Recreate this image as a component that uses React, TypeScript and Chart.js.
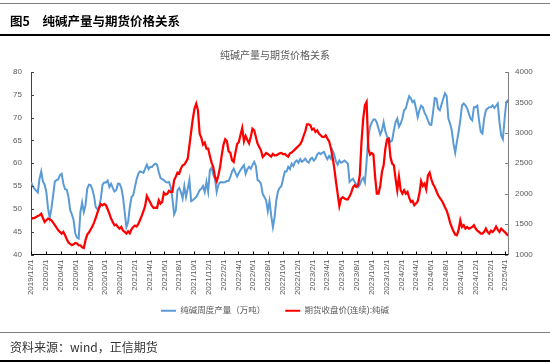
import React, { useEffect, useRef } from "react";
import { Chart, registerables } from "chart.js";

Chart.register(...registerables);

const figureTitle = "图5　纯碱产量与期货价格关系";
const chartTitle = "纯碱产量与期货价格关系";
const sourceNote = "资料来源：wind，正信期货";
const seriesNames = ["纯碱周度产量（万吨）", "期货收盘价(连续):纯碱"];

const startDate = "2019/12/1";
const weekStepDays = 7;

const xTickLabels = [
  "2019/12/1", "2020/2/1", "2020/4/1", "2020/6/1", "2020/8/1", "2020/10/1", "2020/12/1",
  "2021/2/1", "2021/4/1", "2021/6/1", "2021/8/1", "2021/10/1", "2021/12/1",
  "2022/2/1", "2022/4/1", "2022/6/1", "2022/8/1", "2022/10/1", "2022/12/1",
  "2023/2/1", "2023/4/1", "2023/6/1", "2023/8/1", "2023/10/1", "2023/12/1",
  "2024/2/1", "2024/4/1", "2024/6/1", "2024/8/1", "2024/10/1", "2024/12/1",
  "2025/2/1", "2025/4/1",
];

const leftTicks = { min: 40, max: 80, step: 5 };
const rightTicks = { min: 1000, max: 4000, step: 500 };

// weekly production (万吨)
const productionValues = [
  55.9, 55.0, 54.4, 54.0, 53.6, 56.6, 58.2, 56.0, 55.3, 53.7,
  50.1, 48.0, 50.1, 53.0, 56.0, 56.3, 56.5, 57.4, 57.7, 55.5,
  54.3, 54.2, 52.6, 49.7, 48.8, 47.5, 44.6, 43.7, 43.5, 49.3,
  51.4, 49.3, 50.8, 54.4, 55.3, 55.2, 54.3, 52.8, 50.4, 49.9,
  50.4, 52.3, 55.3, 55.8, 55.8, 56.2, 54.8, 55.5, 54.6, 53.8,
  54.1, 55.5, 55.5, 54.6, 52.6, 49.3, 46.0, 47.1, 50.4, 52.6,
  53.0, 54.8, 56.5, 57.7, 58.2, 58.1, 57.9, 58.8, 59.7, 58.7,
  59.2, 59.2, 59.6, 59.9, 59.7, 58.1, 56.8, 56.5, 56.3, 55.9,
  55.8, 55.9, 54.8, 52.3, 48.8, 49.7, 54.1, 54.6, 53.7, 52.3,
  55.0, 52.6, 54.4, 56.3, 51.7, 51.9, 52.3, 52.6, 53.3, 54.1,
  54.4, 55.0, 53.7, 55.9, 53.8, 58.5, 59.0, 57.5, 56.6, 53.7,
  55.3, 55.8, 55.9, 55.8, 55.9, 56.1, 56.1, 57.0, 58.2, 58.8,
  57.9, 57.1, 57.9, 58.5, 59.1, 59.6, 57.7, 58.7, 59.2, 58.8,
  59.6, 60.3, 59.4, 56.3, 56.1, 55.5, 53.3, 52.6, 51.9, 49.5,
  51.7, 48.5, 46.0, 48.2, 51.9, 53.9, 54.6, 55.0, 56.6, 58.2,
  58.2, 59.2, 58.7, 59.9, 59.4, 60.3, 60.6, 60.1, 60.9, 60.3,
  60.6, 61.0, 60.4, 60.1, 60.9, 61.2, 60.6, 61.0, 61.9, 62.3,
  62.0, 62.3, 62.5, 61.6, 60.9, 61.6, 61.0, 62.8, 61.9, 60.4,
  59.7, 60.6, 60.1, 60.3, 60.6, 60.3, 59.9, 55.9, 56.3, 56.6,
  55.9, 55.3, 54.8, 55.3, 56.3, 56.8, 55.8, 60.3, 65.8, 68.0,
  68.9, 69.6, 69.6, 68.9, 67.6, 66.3, 67.2, 69.0, 67.0, 65.8,
  65.4, 64.7, 65.0, 67.2, 69.0, 69.8, 68.0, 68.7, 69.8, 71.6,
  72.0, 73.4, 74.7, 74.2, 73.4, 73.7, 72.0, 70.1, 71.6, 72.6,
  72.3, 71.1, 70.4, 69.4, 68.5, 68.4, 71.2, 74.3, 74.2, 72.0,
  71.6, 72.9, 74.2, 75.3, 74.7, 69.8, 68.7, 67.2, 64.3, 62.3,
  64.7, 66.9, 69.4, 72.7, 73.1, 72.7, 72.0, 70.9, 69.8, 69.4,
  72.3, 72.3, 72.6, 69.4, 66.9, 66.5, 69.8, 71.6, 72.0, 72.3,
  72.3, 72.7, 72.1, 72.6, 73.1, 69.0, 66.1, 65.3, 69.8, 73.4, 73.9,
];

// futures close (continuous), sampled weekly
const priceValues = [
  1580, 1600, 1600, 1618, 1634, 1645, 1672, 1600, 1535, 1563,
  1590, 1580, 1563, 1524, 1481, 1442, 1398, 1371, 1344, 1371,
  1316, 1250, 1196, 1174, 1152, 1168, 1190, 1180, 1152, 1152,
  1120, 1108, 1234, 1327, 1360, 1410, 1459, 1524, 1600, 1688,
  1765, 1831, 1809, 1831, 1809, 1743, 1672, 1590, 1535, 1481,
  1492, 1453, 1426, 1453, 1393, 1371, 1344, 1382, 1349, 1415,
  1453, 1475, 1459, 1502, 1568, 1634, 1711, 1798, 1963, 1908,
  1853, 1798, 1765, 1771, 1765, 1891, 1837, 1864, 2017, 1985,
  1996, 2045, 2028, 2028, 2220, 2280, 2346, 2330, 2412, 2466,
  2477, 2521, 2576, 2795, 3014, 3233, 3398, 3480, 3370, 2987,
  2916, 2806, 2839, 2740, 2740, 2620, 2510, 2439, 2275, 2204,
  2302, 2439, 2642, 2806, 2894, 2861, 2697, 2675, 2549, 2521,
  2675, 2817, 2850, 2970, 3080, 2861, 2948, 2883, 2828, 2932,
  3069, 3042, 2932, 2822, 2768, 2713, 2603, 2631, 2669, 2653,
  2631, 2609, 2653, 2631, 2631, 2647, 2664, 2669, 2647, 2653,
  2625, 2609, 2664, 2675, 2702, 2729, 2757, 2784, 2811, 2866,
  2948, 3025, 3140, 3140, 3124, 3052, 3069, 3014, 3042, 2987,
  2959, 2932, 2932, 2959, 2905, 2861, 2751, 2609, 2423, 2204,
  2001, 1798, 1919, 1941, 1919, 1908, 1908, 1957, 2017, 2105,
  2138, 2110, 2138, 2302, 2850, 3233, 3452, 3507, 2740, 2642,
  2669, 2642, 2275, 2001, 2001, 2127, 2357, 2466, 2740, 2894,
  2905, 2603, 2494, 2466, 2247, 2056, 2275, 2056, 2001, 2056,
  2001, 2028, 1935, 1864, 1880, 1809, 1837, 1875, 2001, 2204,
  2127, 2165, 2072, 2302, 2346, 2237, 2155, 2110, 2039, 1974,
  1930, 1891, 1837, 1776, 1721, 1634, 1524, 1448, 1382, 1327,
  1316, 1404, 1563, 1453, 1481, 1426, 1453, 1426, 1437, 1453,
  1481, 1426, 1393, 1371, 1344, 1344, 1371, 1426, 1371, 1344,
  1393, 1371, 1404, 1459, 1410, 1371, 1426, 1398, 1371, 1344, 1305,
];

const FONT = '"Liberation Sans", "Noto Sans CJK SC", Arial, sans-serif';
const CJK = '"Noto Sans CJK SC", "Liberation Sans", sans-serif';

function dayOf(label: string): number {
  const [y, m, d] = label.split("/").map(Number);
  const [y0, m0, d0] = startDate.split("/").map(Number);
  return Math.round((Date.UTC(y, m - 1, d) - Date.UTC(y0, m0 - 1, d0)) / 86400000);
}

const xTickDays = xTickLabels.map(dayOf);

const insideTicks = {
  id: "insideTicks",
  afterDraw(chart: any) {
    const { ctx, chartArea, scales } = chart;
    ctx.save();
    ctx.lineWidth = 1;
    const len = 3;
    ctx.strokeStyle = "#000";
    scales.x.ticks.forEach((t: any) => {
      const px = Math.round(scales.x.getPixelForValue(t.value)) + 0.5;
      ctx.beginPath();
      ctx.moveTo(px, chartArea.bottom);
      ctx.lineTo(px, chartArea.bottom - len);
      ctx.stroke();
    });
    ctx.strokeStyle = "#404040";
    scales.y.ticks.forEach((t: any) => {
      const py = Math.round(scales.y.getPixelForValue(t.value)) + 0.5;
      ctx.beginPath();
      ctx.moveTo(chartArea.left, py);
      ctx.lineTo(chartArea.left + len, py);
      ctx.stroke();
    });
    ctx.strokeStyle = "#808080";
    scales.y1.ticks.forEach((t: any) => {
      const py = Math.round(scales.y1.getPixelForValue(t.value)) + 0.5;
      ctx.beginPath();
      ctx.moveTo(chartArea.right, py);
      ctx.lineTo(chartArea.right - len, py);
      ctx.stroke();
    });
    ctx.restore();
  },
};

// lift the legend a little so it sits where the reference has it
const legendLift = {
  id: "legendLift",
  afterLayout(chart: any) {
    const l = chart.legend;
    if (l) {
      l.top -= 10;
      l.bottom -= 10;
    }
  },
};

export default function App() {
  const ref = useRef<HTMLCanvasElement | null>(null);

  useEffect(() => {
    if (!ref.current) return;
    const productionPoints = productionValues.map((v, i) => ({ x: i * weekStepDays, y: v }));
    const pricePoints = priceValues.map((v, i) => ({ x: i * weekStepDays, y: v }));
    const xMax = (productionValues.length - 1) * weekStepDays;

    const chart = new Chart(ref.current, {
      type: "line",
      data: {
        datasets: [
          {
            label: seriesNames[0],
            data: productionPoints,
            yAxisID: "y",
            borderColor: "#5B9BD5",
            backgroundColor: "#5B9BD5",
            borderWidth: 2,
            pointRadius: 0,
            tension: 0,
            order: 1,
          },
          {
            label: seriesNames[1],
            data: pricePoints,
            yAxisID: "y1",
            borderColor: "#FF0000",
            backgroundColor: "#FF0000",
            borderWidth: 2.25,
            pointRadius: 0,
            tension: 0,
            order: 0,
          },
        ],
      },
      options: {
        animation: false,
        responsive: false,
        maintainAspectRatio: false,
        layout: { padding: 0 },
        plugins: {
          title: {
            display: true,
            text: chartTitle,
            color: "#595959",
            font: { size: 10, family: FONT, weight: "normal" },
            padding: { top: 50, bottom: 10 },
          },
          legend: {
            position: "bottom",
            labels: {
              boxWidth: 15,
              boxHeight: 2,
              padding: 20,
              color: "#595959",
              font: { size: 8.5, family: FONT },
              sort: (a: any, b: any) => a.datasetIndex - b.datasetIndex,
              generateLabels: (c: any) =>
                (Chart.defaults as any).plugins.legend.labels
                  .generateLabels(c)
                  .map((l: any) => ({ ...l, fillStyle: l.strokeStyle, lineWidth: 0 })),
            },
          },
          tooltip: { enabled: false },
        },
        scales: {
          x: {
            type: "linear",
            min: 0,
            max: xMax,
            afterBuildTicks: (scale: any) => {
              scale.ticks = xTickDays.map((v) => ({ value: v }));
            },
            afterFit: (scale: any) => {
              scale.height = 42;
            },
            ticks: {
              autoSkip: false,
              minRotation: 90,
              maxRotation: 90,
              padding: 5,
              color: "#595959",
              font: { size: 8, family: FONT },
              callback: (value: any) => {
                const idx = xTickDays.indexOf(Number(value));
                return idx >= 0 ? xTickLabels[idx] : "";
              },
            },
            grid: { display: false, drawTicks: false },
            border: { display: true, color: "#000", width: 1 },
          },
          y: {
            type: "linear",
            position: "left",
            min: leftTicks.min,
            max: leftTicks.max,
            afterFit: (scale: any) => {
              scale.width = 31;
            },
            ticks: {
              stepSize: leftTicks.step,
              padding: 9,
              color: "#595959",
              font: { size: 8, family: FONT },
              callback: (v: any) => String(v),
            },
            grid: { display: false, drawTicks: false },
            border: { display: true, color: "#404040", width: 1 },
          },
          y1: {
            type: "linear",
            position: "right",
            min: rightTicks.min,
            max: rightTicks.max,
            afterFit: (scale: any) => {
              scale.width = 42;
            },
            ticks: {
              stepSize: rightTicks.step,
              padding: 7,
              color: "#595959",
              font: { size: 8, family: FONT },
              callback: (v: any) => String(v),
            },
            grid: { display: false, drawTicks: false },
            border: { display: true, color: "#808080", width: 1 },
          },
        },
      },
      plugins: [insideTicks, legendLift],
    } as any);

    return () => chart.destroy();
  }, []);

  const line = (top: number, h: number, color: string) => (
    <div
      style={{ position: "absolute", left: 0, top, width: 550, height: h, background: color }}
    />
  );

  return (
    <div
      style={{
        position: "absolute",
        left: 0,
        top: 0,
        width: 550,
        height: 364,
        background: "#fff",
        overflow: "hidden",
      }}
    >
      <canvas
        ref={ref}
        width={550}
        height={335}
        style={{ position: "absolute", left: 0, top: 0, width: 550, height: 335 }}
      />
      {line(3, 1, "#808080")}
      <div
        style={{
          position: "absolute",
          left: 10,
          top: 13,
          fontFamily: CJK,
          fontWeight: 700,
          fontSize: 12.5,
          lineHeight: "16px",
          color: "#000",
          whiteSpace: "nowrap",
        }}
      >
        {figureTitle}
      </div>
      {line(34, 1.5, "#000")}
      {line(332, 1, "#808080")}
      <div
        style={{
          position: "absolute",
          left: 10,
          top: 339,
          fontFamily: CJK,
          fontSize: 12,
          lineHeight: "16px",
          color: "#333",
          whiteSpace: "nowrap",
        }}
      >
        {sourceNote}
      </div>
      {line(360, 1.5, "#000")}
    </div>
  );
}
